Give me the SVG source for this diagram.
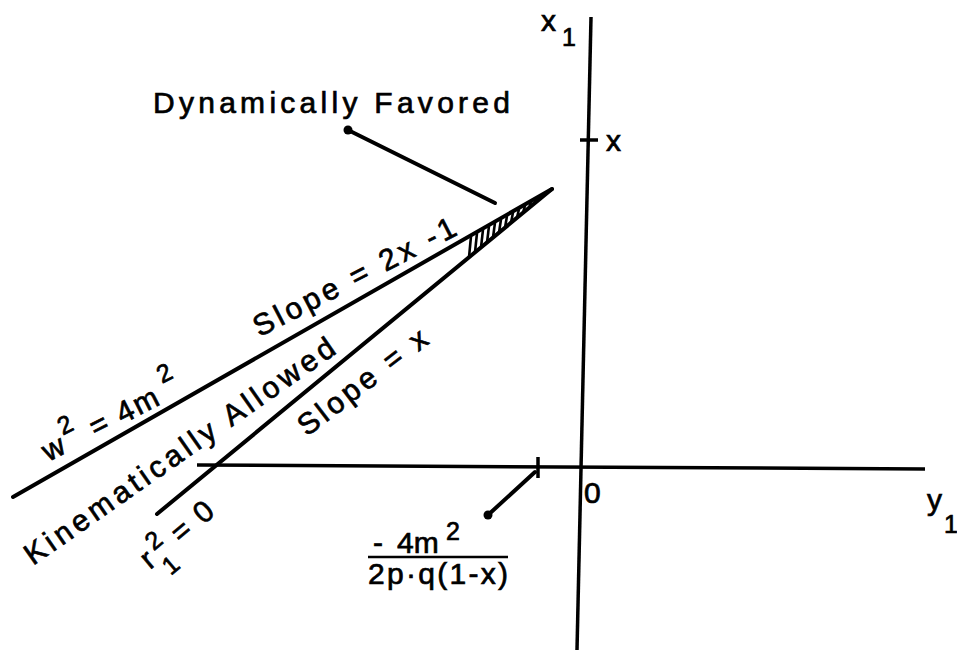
<svg xmlns="http://www.w3.org/2000/svg" width="957" height="650" viewBox="0 0 957 650">
<style>
.ln{stroke:#000;stroke-width:4;stroke-linecap:round;fill:none}
.ax{stroke:#000;stroke-width:3.5;stroke-linecap:butt;fill:none}
.ht{stroke:#000;stroke-width:2.6;fill:none}
.t{font-family:"Liberation Sans",Arial,sans-serif;font-size:30px;fill:#000;stroke:#000;stroke-width:0.7}
.s{font-size:25px}
</style>
<rect width="957" height="650" fill="#fff"/>
<g id="axes">
<line class="ax" x1="591" y1="17" x2="577" y2="650"/>
<line class="ax" x1="197" y1="465" x2="925" y2="469"/>
<line class="ax" x1="580" y1="140" x2="598" y2="140"/>
<line class="ax" x1="538" y1="457" x2="538" y2="478"/>
</g>
<g id="boundary-lines">
<line class="ln" x1="13" y1="497" x2="552" y2="189"/>
<line class="ln" x1="157" y1="514" x2="552" y2="189"/>
</g>
<g id="hatch">
<line class="ht" x1="469" y1="257.3" x2="471" y2="236.4"/>
<line class="ht" x1="475" y1="252.4" x2="477" y2="233"/>
<line class="ht" x1="481" y1="247.4" x2="483" y2="229.6"/>
<line class="ht" x1="487" y1="242.5" x2="489" y2="226.1"/>
<line class="ht" x1="493" y1="237.5" x2="495" y2="222.7"/>
<line class="ht" x1="499" y1="232.6" x2="501" y2="219.3"/>
<line class="ht" x1="505" y1="227.7" x2="507" y2="215.9"/>
<line class="ht" x1="511" y1="222.7" x2="513" y2="212.4"/>
<line class="ht" x1="517" y1="217.8" x2="519" y2="209"/>
<line class="ht" x1="523" y1="212.9" x2="525" y2="205.6"/>
<line class="ht" x1="529" y1="207.9" x2="531" y2="202.1"/>
<line class="ht" x1="535" y1="203" x2="537" y2="198.7"/>
<line class="ht" x1="541" y1="198" x2="543" y2="195.3"/>
</g>
<g id="connectors">
<line class="ln" stroke-width="3" x1="348" y1="130" x2="495" y2="203"/>
<circle cx="348" cy="130" r="4.5" fill="#000"/>
<line class="ln" stroke-width="3" x1="488" y1="515" x2="535" y2="472"/>
<circle cx="488" cy="515" r="4.5" fill="#000"/>
</g>
<g id="label-dynamically-favored">
<text class="t" x="153" y="113" textLength="357" lengthAdjust="spacing">Dynamically Favored</text>
</g>
<g id="label-x1-axis">
<text class="t" x="541" y="31">x</text>
<text class="t s" x="562" y="46">1</text>
</g>
<g id="label-x-tick">
<text class="t" x="606" y="151">x</text>
</g>
<g id="label-y1-axis">
<text class="t" x="927" y="510">y</text>
<text class="t s" x="944" y="533">1</text>
</g>
<g id="label-origin">
<text class="t" x="584" y="503" font-size="28">0</text>
</g>
<g id="label-fraction">
<text class="t" x="373" y="553" font-size="28"><tspan>-</tspan><tspan x="397">4m</tspan><tspan class="s" x="446" y="540">2</tspan></text>
<line x1="368" y1="557" x2="508" y2="557" stroke="#000" stroke-width="2.5"/>
<text class="t" x="368" y="584" font-size="28" textLength="140" lengthAdjust="spacing">2p·q(1-x)</text>
</g>
<g id="label-w2" transform="translate(50,461) rotate(-27)">
<text class="t"><tspan x="-2" y="0">w</tspan><tspan class="s" x="23" y="-17">2</tspan><tspan x="51" y="0">=</tspan><tspan x="81" y="0">4</tspan><tspan x="100" y="0">m</tspan><tspan class="s" x="135" y="-18">2</tspan></text>
</g>
<g id="label-slope-2x-1" transform="translate(259.6,337.3) rotate(-27.4)">
<text class="t" x="0" y="0" textLength="224" lengthAdjust="spacing">Slope = 2x -1</text>
</g>
<g id="label-kinematically-allowed" transform="translate(33,566) rotate(-35)">
<text class="t" x="0" y="0" textLength="372" lengthAdjust="spacing">Kinematically Allowed</text>
</g>
<g id="label-slope-x" transform="translate(307,437) rotate(-37.4)">
<text class="t" x="0" y="0" textLength="155" lengthAdjust="spacing">Slope = x</text>
</g>
<g id="label-r1" transform="translate(150,570) rotate(-40)">
<text class="t"><tspan x="0" y="0">r</tspan><tspan class="s" x="12" y="18">1</tspan><tspan class="s" x="15" y="-12">2</tspan><tspan x="40" y="0">=</tspan><tspan x="70" y="0">0</tspan></text>
</g>
</svg>
